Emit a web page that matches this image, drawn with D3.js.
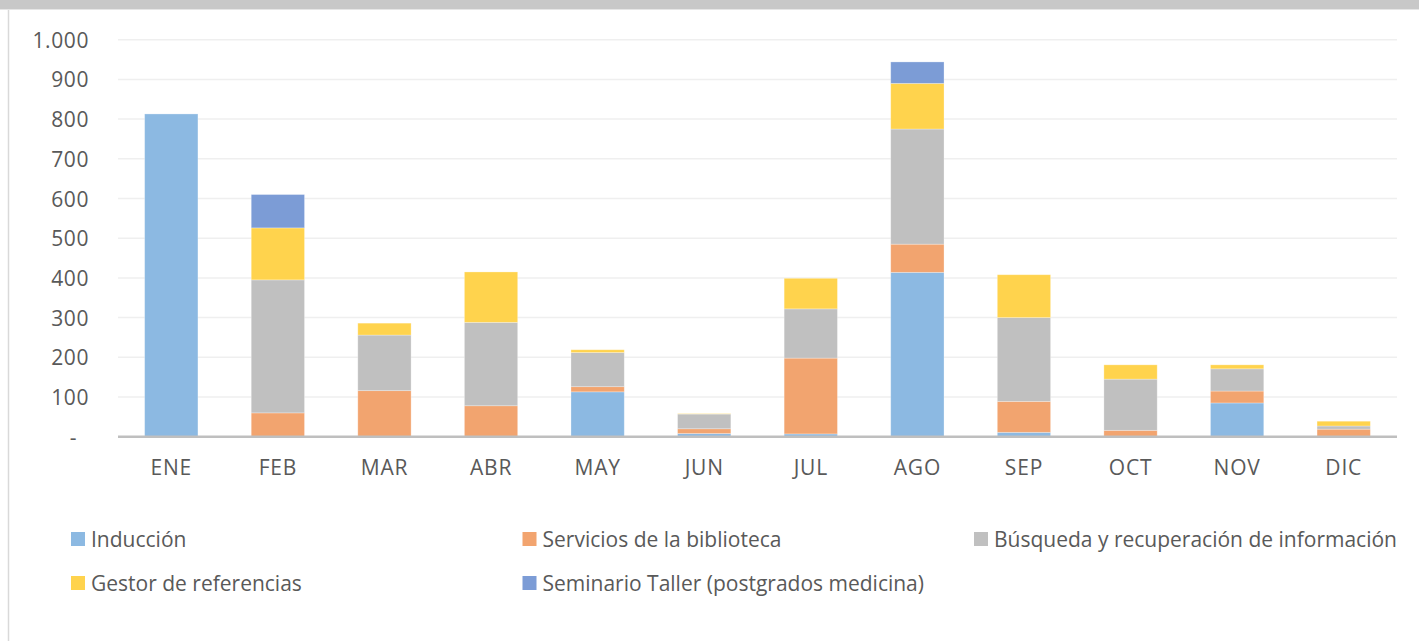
<!DOCTYPE html>
<html><head><meta charset="utf-8">
<script src="https://cdn.jsdelivr.net/npm/d3@7"></script>
<style>
html,body{margin:0;padding:0;background:#fff;}
svg{display:block;font-family:"Open Sans",sans-serif;}
</style></head>
<body><svg id="c" width="1419" height="641"></svg>
<script>
const months = ["ENE","FEB","MAR","ABR","MAY","JUN","JUL","AGO","SEP","OCT","NOV","DIC"];
const seriesNames = ["Inducción","Servicios de la biblioteca","Búsqueda y recuperación de información","Gestor de referencias","Seminario Taller (postgrados medicina)"];
const induccion  = [813,0,0,0,113,8,7,414,11,0,85,0];
const servicios  = [0,60,116,78,13,12,191,71,78,16,30,19];
const busqueda   = [0,335,140,210,86,37,124,290,211,129,56,8];
const gestor     = [0,131,30,127,7,1,77,115,108,36,10,12];
const seminario  = [0,84,0,0,0,0,0,54,0,0,0,0];
const yTicks = [0,100,200,300,400,500,600,700,800,900,1000];
const colors = ["#8cb9e2","#f2a46f","#c0c0c0","#ffd34d","#7c9cd6"];

const svg = d3.select("#c");
const W=1419,H=641;
// frame
svg.append("rect").attr("x",0).attr("y",0).attr("width",W).attr("height",9).attr("fill","#c8c8c8");
svg.append("line").attr("x1",0).attr("x2",W).attr("y1",9.5).attr("y2",9.5).attr("stroke","#e6e6e6").attr("stroke-width",1);
svg.append("line").attr("x1",8.5).attr("x2",8.5).attr("y1",10).attr("y2",H).attr("stroke","#d9d9d9").attr("stroke-width",1.5);

const x0=118,x1=1397,yBase=436.7,yTop=39.7;
const x = d3.scaleBand().domain(months).range([x0,x1]).paddingInner(0.5).paddingOuter(0.25);
const y = d3.scaleLinear().domain([0,1000]).range([yBase,yTop]);

const textColor="#595959";
// gridlines
svg.append("g").selectAll("line").data(yTicks.filter(d=>d>0)).join("line")
  .attr("x1",x0).attr("x2",x1).attr("y1",d=>y(d)).attr("y2",d=>y(d))
  .attr("stroke","#efefef").attr("stroke-width",1.5);

// y axis labels
const fmt = d=> d===0 ? "-" : d3.format(",")(d).replace(/,/g,".");
const yAxis = d3.axisLeft(y).tickValues(yTicks).tickFormat(fmt).tickSize(0).tickPadding(0);
const ga = svg.append("g").attr("transform",`translate(89,0)`).call(yAxis);
ga.select(".domain").remove();
ga.selectAll("text").attr("fill",textColor).style("font-size","21px").style("font-family","'Open Sans',sans-serif")
  .style("letter-spacing","0.6px")
  .attr("dy","0.36em").attr("dx",d=>d===0?-12:0);

// stacked data
const rows = months.map((m,i)=>({m, s0:induccion[i], s1:servicios[i], s2:busqueda[i], s3:gestor[i], s4:seminario[i]}));
const keys=["s0","s1","s2","s3","s4"];
const stack = d3.stack().keys(keys)(rows);
svg.append("g").selectAll("g").data(stack).join("g").attr("fill",(d,i)=>colors[i])
  .selectAll("rect").data(d=>d.filter(p=>p[1]-p[0]>0)).join("rect")
  .attr("x",d=>x(d.data.m)).attr("width",x.bandwidth())
  .attr("y",d=>y(d[1])).attr("height",d=>y(d[0])-y(d[1]))
  .attr("stroke","#ffffff").attr("stroke-opacity",0.35).attr("stroke-width",0.8);

// baseline
svg.append("line").attr("x1",x0).attr("x2",x1).attr("y1",yBase).attr("y2",yBase).attr("stroke","#bfbfbf").attr("stroke-width",2.5);

// x axis labels
const xAxis = d3.axisBottom(x).tickSize(0).tickPadding(0);
const gx = svg.append("g").attr("transform",`translate(0,475)`).call(xAxis);
gx.select(".domain").remove();
gx.selectAll("text").attr("fill",textColor).style("font-size","21px").style("font-family","'Open Sans',sans-serif")
  .attr("dy",0).attr("y",0).style("letter-spacing","0.8px");

// legend
const legPos = [[71,539],[522.5,539],[974,539],[71,583],[522.5,583]];
const lg = svg.append("g").selectAll("g").data(seriesNames).join("g")
  .attr("transform",(d,i)=>`translate(${legPos[i][0]},${legPos[i][1]})`);
lg.append("rect").attr("x",0).attr("y",-7).attr("width",14).attr("height",14).attr("fill",(d,i)=>colors[i]);
lg.append("text").attr("x",20).attr("y",0).attr("dy","0.36em").text(d=>d)
  .attr("fill",textColor).style("font-size","21px");
</script></body></html>
